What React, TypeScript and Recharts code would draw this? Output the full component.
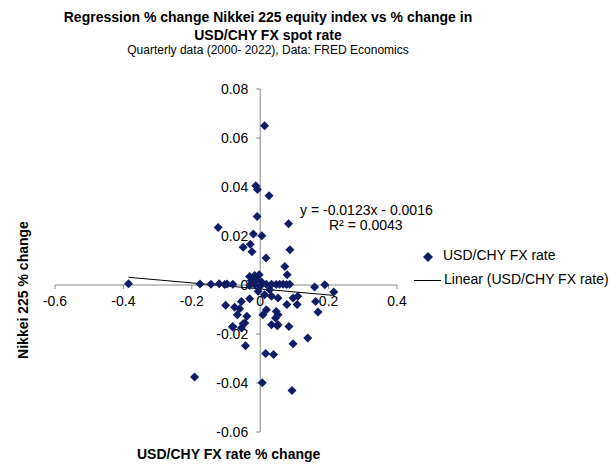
import React from 'react';
import { ScatterChart, Scatter, XAxis, YAxis, ReferenceLine, ReferenceDot } from 'recharts';

// USD/CHY FX quarterly % change (x) vs Nikkei 225 quarterly % change (y)
const fxChange = [
  0.013, -0.013, -0.008, 0.026, -0.009, 0.083, -0.123, -0.02, 0.005, -0.029,
  -0.05, -0.024, 0.087, 0.017, 0.072, 0.079,
  -0.031, -0.016, -0.003, -0.026, -0.011, 0.004, -0.031, -0.016, -0.001,
  -0.385, -0.176, -0.144, -0.12, -0.104, -0.097, -0.08,
  0.018, 0.033, 0.047, 0.057, 0.067, 0.077, 0.086,
  0.159, 0.189, 0.215,
  -0.031, -0.101, -0.075, -0.055, -0.06, -0.067, -0.039, -0.045, -0.08, -0.055,
  0.013, 0.033, 0.052, 0.018, 0.008, 0.047, 0.052, 0.045, 0.033, 0.052, 0.084,
  0.078, 0.096, 0.108, 0.11, 0.162, 0.169, -0.006, 0.028,
  -0.081, -0.05, -0.043, 0.05, 0.096, 0.139, 0.016, 0.039, -0.192, 0.006, 0.093,
];
const nikkeiChange = [
  0.065, 0.0405, 0.039, 0.0364, 0.028, 0.025, 0.0235, 0.0208, 0.0201, 0.0166,
  0.0154, 0.0136, 0.0144, 0.011, 0.0076, 0.0042,
  0.0035, 0.0039, 0.0042, 0.0018, 0.0022, 0.0012, -0.0002, 0.0001, -0.0006,
  0.0005, 0.0004, 0.0003, 0.0005, 0.0002, 0.0004, 0.0003,
  0.0003, 0.0003, 0.0002, 0.0003, 0.0003, 0.0002, 0.0003,
  -0.0008, 0.0001, -0.0029,
  -0.0056, -0.0083, -0.0091, -0.0067, -0.0097, -0.0121, -0.0128, -0.0155, -0.0169, -0.0176,
  -0.004, -0.0046, -0.0053, -0.0101, -0.0121, -0.0108, -0.0121, -0.0135, -0.0162, -0.0162, -0.0169,
  -0.008, -0.0053, -0.008, -0.0046, -0.0067, -0.011, -0.0026, -0.0019,
  -0.0171, -0.0158, -0.0248, -0.0166, -0.024, -0.0216, -0.028, -0.0284, -0.0376, -0.0399, -0.0431,
];

const xTicks = [-0.6, -0.4, -0.2, 0, 0.2, 0.4];
const yTicks = [-0.06, -0.04, -0.02, 0, 0.02, 0.04, 0.06, 0.08];

// trendline reported by the source chart
const slope = -0.0123;
const intercept = -0.0016;
const rSquared = 0.0043;

const NAVY = '#0f1c66';
const AXIS = '#868686';
const FONT = 'Arial, "Liberation Sans", sans-serif';

const points = fxChange.map((x, i) => ({ x, y: nikkeiChange[i] }));
const xMin = Math.min(...fxChange);
const xMax = Math.max(...fxChange);

const Diamond = (p: any) => {
  const { cx, cy } = p;
  const s = 4.5;
  return <path d={`M${cx},${cy - s}L${cx + s},${cy}L${cx},${cy + s}L${cx - s},${cy}Z`} fill={NAVY} />;
};

const fmt = (v: number) => (v === 0 ? '0' : String(v));

const XTick = (label: string) => (p: any) => (
  <g>
    <line x1={p.cx} y1={p.cy} x2={p.cx} y2={p.cy + 4} stroke={AXIS} />
    <text x={p.cx} y={p.cy + 21} textAnchor="middle" fontSize={14} fill="#000" fontFamily={FONT}>{label}</text>
  </g>
);

const YTick = (label: string) => (p: any) => (
  <g>
    <line x1={p.cx - 4} y1={p.cy} x2={p.cx} y2={p.cy} stroke={AXIS} />
    <text x={p.cx - 12} y={p.cy + 5} textAnchor="end" fontSize={14} fill="#000" fontFamily={FONT}>{label}</text>
  </g>
);

export default function App() {
  return (
    <div style={{ position: 'absolute', left: 0, top: 0, width: 610, height: 471, background: '#fff', fontFamily: FONT }}>
      <div style={{ position: 'absolute', left: 0, width: 536, top: 8, textAlign: 'center', fontWeight: 'bold', fontSize: 14, lineHeight: '18px' }}>
        Regression % change Nikkei 225 equity index vs % change in<br />USD/CHY FX spot rate
      </div>
      <div style={{ position: 'absolute', left: 0, width: 536, top: 43, textAlign: 'center', fontSize: 12 }}>
        Quarterly data (2000- 2022), Data: FRED Economics
      </div>
      <div style={{ position: 'absolute', left: 300, top: 203, fontSize: 14, lineHeight: '15px' }}>
        <div>y = {slope}x - {Math.abs(intercept)}</div>
        <div style={{ marginLeft: 29 }}>R² = {rSquared}</div>
      </div>
      <div style={{ position: 'absolute', left: 137, top: 446, fontWeight: 'bold', fontSize: 14 }}>
        USD/CHY FX rate % change
      </div>
      <div style={{ position: 'absolute', left: 23, top: 290, width: 0, height: 0 }}>
        <div style={{ position: 'absolute', transform: 'translate(-50%, -50%) rotate(-90deg)', whiteSpace: 'nowrap', fontWeight: 'bold', fontSize: 14 }}>
          Nikkei 225 % change
        </div>
      </div>
      <div style={{ position: 'absolute', left: 412, top: 244, fontSize: 14, color: '#000' }}>
        <div style={{ position: 'absolute', left: 10, top: 6 }}>
          <svg width={12} height={12}><path d="M6,1L11,6L6,11L1,6Z" fill={NAVY} /></svg>
        </div>
        <div style={{ position: 'absolute', left: 31, top: 3, whiteSpace: 'nowrap' }}>USD/CHY FX rate</div>
        <div style={{ position: 'absolute', left: 2, top: 30 }}>
          <svg width={28} height={12}><line x1={0} y1={5.5} x2={27} y2={5.5} stroke="#000" /></svg>
        </div>
        <div style={{ position: 'absolute', left: 32, top: 27, whiteSpace: 'nowrap' }}>Linear (USD/CHY FX rate)</div>
      </div>
      <ScatterChart width={610} height={471} margin={{ top: 89, right: 213, bottom: 39, left: 55 }}>
        <XAxis type="number" dataKey="x" domain={[-0.6, 0.4]} ticks={xTicks} hide />
        <YAxis type="number" dataKey="y" domain={[-0.06, 0.08]} ticks={yTicks} hide />
        <ReferenceLine y={0} stroke={AXIS} />
        <ReferenceLine x={0} stroke={AXIS} />
        {xTicks.map((t) => (
          <ReferenceDot key={'x' + t} x={t} y={0} r={1} shape={XTick(fmt(t))} />
        ))}
        {yTicks.map((t) => (
          <ReferenceDot key={'y' + t} x={0} y={t} r={1} shape={YTick(fmt(t))} />
        ))}
        <Scatter data={points} shape={Diamond} isAnimationActive={false} />
        <ReferenceLine
          segment={[
            { x: xMin, y: slope * xMin + intercept },
            { x: xMax, y: slope * xMax + intercept },
          ]}
          stroke="#000"
          strokeWidth={1}
        />
      </ScatterChart>
    </div>
  );
}
